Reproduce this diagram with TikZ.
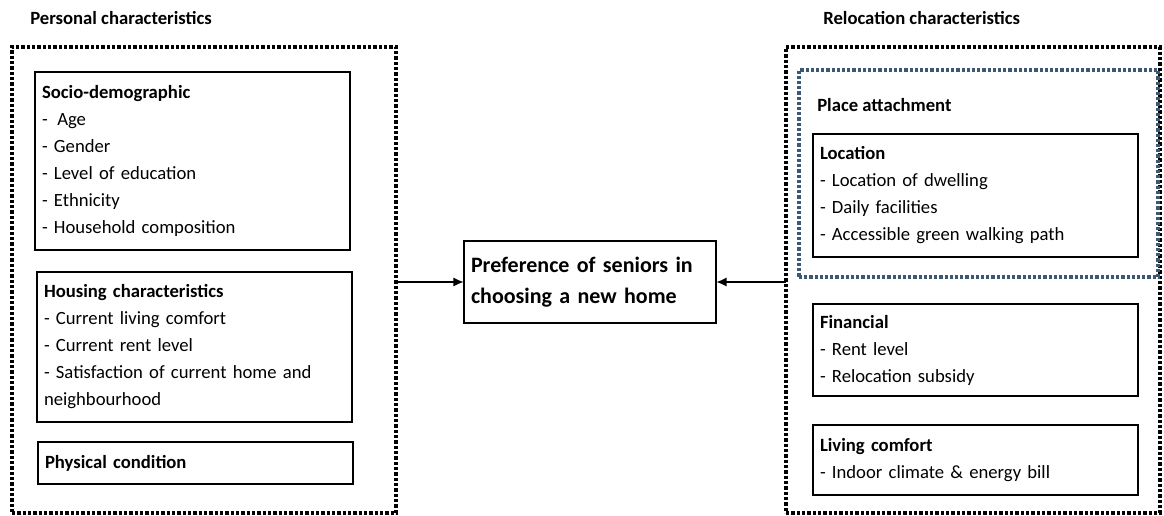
\documentclass[tikz,border=0pt]{standalone}
\usepackage{fontspec}
\setmainfont{Carlito}
\usepackage{tikz}
\usetikzlibrary{arrows.meta}
\usetikzlibrary{positioning}
\definecolor{slate}{RGB}{59,88,118}
\tikzset{outer/.style = {draw, line width = 2.4pt, dash pattern = on 2.4pt off 1.6pt, anchor = north west, inner sep = 0, outer sep = 0}}
\tikzset{grp/.style = {draw = slate, line width = 2.4pt, dash pattern = on 2.4pt off 1.5pt, anchor = north west, inner sep = 0, outer sep = 0}}
\tikzset{box/.style = {draw, line width = 2.2pt, anchor = north west, align = left, inner xsep = 5.25pt, inner ysep = 0, outer sep = 0, font = \fontsize{14}{20.25}\selectfont}}
\tikzset{ttl/.style = {anchor = west, inner sep = 0, font = \fontsize{14}{20.25}\selectfont\bfseries}}
\tikzset{arr/.style = {-{Latex[length = 8pt, width = 7pt]}, line width = 1.6pt}}

\begin{document}
\begin{tikzpicture}[x = 0.75pt, y = -0.75pt]
          \useasboundingbox (0, 0) rectangle (1164, 515);

          \node [ttl] (ptitle) at (30, 18) {Personal characteristics};
          \node [ttl] (rtitle) at (823, 18) {Relocation characteristics};

          \node [outer, minimum width = 288pt, minimum height = 349.5pt] (personal) at (12, 47) {};
          \node [outer, minimum width = 280.5pt, minimum height = 349.5pt] (relocation) at (786, 47) {};

          \node [box, text width = 225.75pt, minimum height = 133.5pt] (socio) at (35, 72) {\textbf{Socio-demographic}\\- \hspace{2.5pt}Age\\- Gender\\- Level of education\\- Ethnicity\\- Household composition};
          \node [box, text width = 225.75pt, minimum height = 112.5pt] (housing) at (37, 272) {\textbf{Housing characteristics}\\- Current living comfort\\- Current rent level\\- Satisfaction of current home and\\neighbourhood};
          \node [box, text width = 225.75pt, minimum height = 31.5pt] (physical) at (38, 442) {\textbf{Physical condition}};

          \node [box, line width = 2pt, text width = 178.5pt, minimum height = 61.5pt, font = \fontsize{16.5}{23.25}\selectfont\bfseries] (pref) at (464, 241) {Preference of seniors in\\choosing a new home};

          \node [grp, minimum width = 269.25pt, minimum height = 155.25pt] (place) at (799, 70) {};
          \node [ttl] (ptext) at (817, 105) {Place attachment};
          \node [box, text width = 233.25pt, minimum height = 92.25pt] (location) at (813, 134) {\textbf{Location}\\- Location of dwelling\\- Daily facilities\\- Accessible green walking path};
          \node [box, text width = 233.25pt, minimum height = 69pt] (financial) at (813, 304) {\textbf{Financial}\\- Rent level\\- Relocation subsidy};
          \node [box, text width = 233.25pt, minimum height = 52.5pt] (living) at (813, 425) {\textbf{Living comfort}\\- Indoor climate \& energy bill};

          \draw [arr] (personal.east |- pref.west) -- (pref.west);
          \draw [arr] (relocation.west |- pref.east) -- (pref.east);
        \end{tikzpicture}
\end{document}
